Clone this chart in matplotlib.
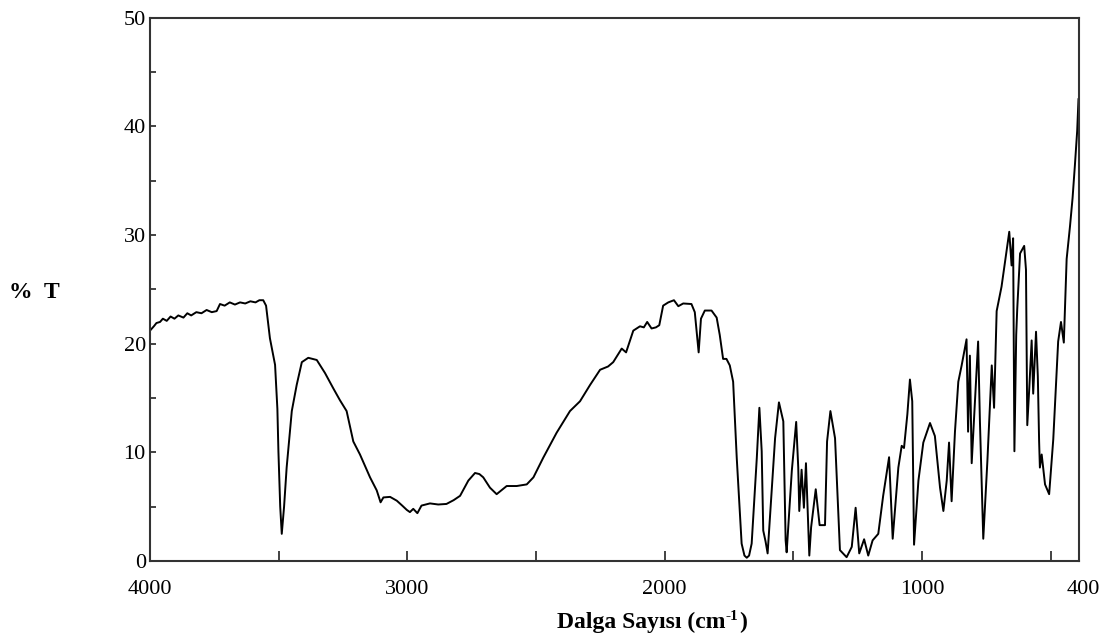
import matplotlib
matplotlib.use("Agg")
import matplotlib.pyplot as plt

# ---- data ----
wavenumber = [
    4000, 3985, 3975, 3961, 3950, 3935, 3920, 3905, 3890, 3870, 3855, 3840, 3820, 3800,
    3780, 3760, 3741, 3728, 3710, 3690, 3670, 3650, 3630, 3610, 3590, 3575, 3560, 3549,
    3534, 3514, 3505, 3501, 3494, 3488, 3479, 3469, 3449, 3430, 3410, 3385, 3352, 3320,
    3288, 3262, 3236, 3210, 3184, 3145, 3119, 3104, 3093, 3067, 3041, 3020, 3002, 2990,
    2977, 2961, 2945, 2912, 2880, 2848, 2820, 2795, 2763, 2737, 2720, 2705, 2679, 2653,
    2635, 2614, 2575, 2536, 2510, 2472, 2420, 2368, 2329, 2290, 2251, 2220, 2200, 2167,
    2150, 2122, 2096, 2081, 2068, 2051, 2034, 2021, 2006, 1986, 1964, 1947, 1928, 1896,
    1883, 1868, 1859, 1844, 1818, 1798, 1786, 1773, 1760, 1747, 1734, 1720, 1701, 1690,
    1681, 1672, 1662, 1642, 1632, 1623, 1617, 1608, 1600, 1584, 1571, 1556, 1539, 1530,
    1526, 1506, 1489, 1481, 1477, 1468, 1459, 1451, 1438, 1431, 1413, 1398, 1377, 1369,
    1356, 1338, 1319, 1293, 1273, 1258, 1244, 1225, 1209, 1192, 1170, 1151, 1128, 1114,
    1092, 1079, 1070, 1057, 1047, 1038, 1031, 1014, 995, 969, 950, 930, 917, 904,
    895, 885, 872, 859, 846, 827, 821, 814, 807, 782, 775, 762, 746, 729,
    720, 710, 691, 661, 652, 646, 641, 634, 630, 619, 603, 596, 591, 583,
    574, 568, 557, 550, 545, 542, 535, 522, 506, 490, 471, 460, 449, 438,
    425, 415, 406, 397, 392,
]
transmittance = [
    21.2, 21.6, 21.9, 22.0, 22.3, 22.1, 22.5, 22.3, 22.6, 22.4, 22.8, 22.6, 22.9, 22.8,
    23.1, 22.9, 23.0, 23.65, 23.5, 23.8, 23.6, 23.8, 23.7, 23.9, 23.8, 24.0, 24.0, 23.5,
    20.5, 18.05, 14.0, 10.1, 5.0, 2.5, 5.0, 8.6, 13.8, 16.2, 18.3, 18.7, 18.5, 17.3,
    15.9, 14.8, 13.8, 11.0, 9.8, 7.7, 6.5, 5.4, 5.85, 5.9, 5.55, 5.1, 4.7, 4.5,
    4.8, 4.4, 5.1, 5.3, 5.2, 5.25, 5.6, 6.0, 7.4, 8.1, 8.0, 7.7, 6.75, 6.15,
    6.5, 6.9, 6.9, 7.05, 7.7, 9.5, 11.8, 13.8, 14.7, 16.2, 17.6, 17.9, 18.3, 19.55,
    19.2, 21.2, 21.6, 21.5, 22.0, 21.4, 21.5, 21.7, 23.5, 23.8, 24.0, 23.45, 23.7, 23.65,
    22.9, 19.2, 22.3, 23.05, 23.05, 22.4, 20.8, 18.6, 18.6, 18.0, 16.5, 9.5, 1.6, 0.5,
    0.3, 0.5, 1.6, 9.5, 14.1, 10.1, 2.8, 1.8, 0.7, 6.5, 11.3, 14.6, 12.85, 1.9,
    0.8, 8.3, 12.8, 8.6, 4.6, 8.4, 4.9, 9.0, 0.5, 3.1, 6.6, 3.3, 3.3, 11.0,
    13.8, 11.3, 1.0, 0.35, 1.3, 4.9, 0.7, 2.0, 0.5, 1.9, 2.5, 6.0, 9.55, 2.05,
    8.6, 10.6, 10.4, 13.5, 16.7, 14.7, 1.5, 7.4, 10.9, 12.7, 11.5, 6.75, 4.6, 7.4,
    10.9, 5.5, 11.9, 16.5, 18.0, 20.4, 11.9, 18.9, 9.0, 20.2, 12.85, 2.05, 9.2, 18.0,
    14.1, 23.0, 25.25, 30.3, 27.2, 29.7, 10.1, 20.8, 23.2, 28.3, 29.0, 26.8, 12.5, 16.0,
    20.3, 15.4, 21.1, 17.0, 11.0, 8.6, 9.8, 7.05, 6.15, 11.2, 20.2, 22.0, 20.1, 27.8,
    30.8, 33.4, 36.4, 39.6, 42.5,
]

x_major = [4000, 3500, 3000, 2500, 2000, 1500, 1000, 500]
x_major_labels = ["4000", "", "3000", "", "2000", "", "1000", ""]
y_ticks = [0, 5, 10, 15, 20, 25, 30, 35, 40, 45, 50]
y_tick_labels = ["0", "", "10", "", "20", "", "30", "", "40", "", "50"]

plt.rcParams["font.family"] = ["Liberation Serif", "DejaVu Serif"]

W, H = 1118, 643
fig = plt.figure(figsize=(W / 100, H / 100), dpi=100)
ax = fig.add_axes([150 / W, 1 - 561 / H, (1079 - 150) / W, (561 - 17.7) / H])

ax.plot(wavenumber, transmittance, color="black", linewidth=1.4)

ax.set_xlim(4000, 390)
ax.set_ylim(0, 50)

ax.set_xticks(x_major)
ax.set_xticklabels(x_major_labels)
ax.set_yticks(y_ticks)
ax.set_yticklabels(y_tick_labels)

ax.tick_params(axis="x", direction="in", length=7, width=1.2, labelsize=16, pad=14, colors="#222222", labelcolor="black")
ax.tick_params(axis="y", direction="in", length=4, width=1.2, labelsize=16, pad=3, colors="#222222", labelcolor="black")

for s in ax.spines.values():
    s.set_linewidth(1.5)
    s.set_color("#333333")

fig.canvas.draw()
renderer = fig.canvas.get_renderer()
bb = ax.xaxis.get_ticklabels()[0].get_window_extent(renderer)
fig.text(1083 / W, bb.y0 / H, "400", ha="center", va="bottom", fontsize=16)

# x-axis title with small superscript
base_y = 1 - 628 / H
t1 = fig.text(0, base_y, "Dalga Sayısı (cm", ha="left", va="baseline", fontsize=17, fontweight="bold")
t2 = fig.text(0, base_y + 8 / H, "-1", ha="left", va="baseline", fontsize=11, fontweight="bold")
t3 = fig.text(0, base_y, ")", ha="left", va="baseline", fontsize=17, fontweight="bold")
fig.canvas.draw()
w1 = t1.get_window_extent(renderer).width
w2 = t2.get_window_extent(renderer).width
w3 = t3.get_window_extent(renderer).width
total = w1 + w2 + w3
x0 = 652 - total / 2
t1.set_x(x0 / W)
t2.set_x((x0 + w1) / W)
t3.set_x((x0 + w1 + w2) / W)

fig.text(9 / W, 1 - 298 / H, "%  T", ha="left", va="baseline", fontsize=17, fontweight="bold")

fig.savefig("out.png", dpi=100, facecolor="white")
